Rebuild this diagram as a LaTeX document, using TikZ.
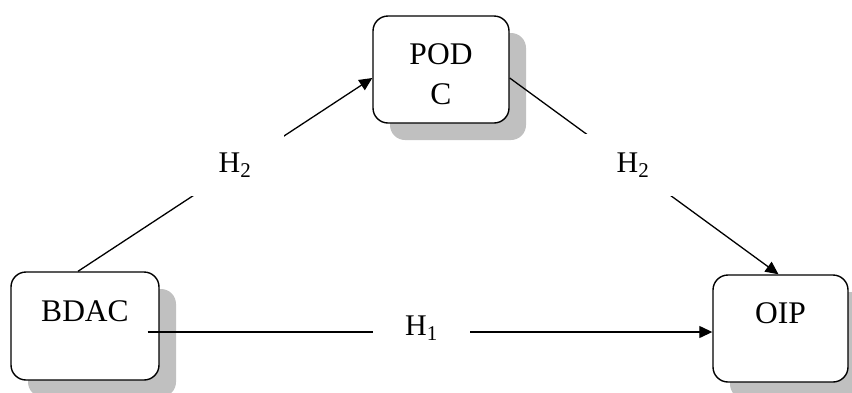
\documentclass[tikz,border=0pt]{standalone}
\usepackage{fontspec}
\setmainfont{Liberation Serif}
\usetikzlibrary{arrows.meta,shadows,calc}
\definecolor{shadowgray}{RGB}{192,192,192}
\begin{document}
\begin{tikzpicture}[x=1pt,y=-1pt,
  boxnode/.style={draw, line width=1.4pt, rounded corners=15pt, fill=white,
    inner sep=0pt, align=center, font=\fontsize{31.5}{40}\selectfont,
    drop shadow={shadow xshift=17pt, shadow yshift=-17pt, fill=shadowgray, opacity=1}},
  lbl/.style={fill=white, inner sep=0pt, minimum width=97pt, minimum height=62pt,
    font=\fontsize{30}{36}\selectfont},
  conn/.style={line width=1.3pt, -{Triangle[length=13pt,width=12pt]}}]
\clip (0,0) rectangle (852,392);
\node[boxnode, minimum width=136pt, minimum height=107pt] (podc) at (441,69.5) {\rule{0pt}{30pt}POD\\C};
\node[boxnode, minimum width=148pt, minimum height=108pt] (bdac) at (85,326) {\rule{0pt}{30pt}BDAC\\\mbox{}};
\node[boxnode, minimum width=135pt, minimum height=107pt] (oip) at (780.5,328.5) {\rule{0pt}{30pt}OIP\\\mbox{}};
\draw[conn] ($(bdac.north)+(-7,0)$) -- ($(podc.west)+(0,8.5)$);
\draw[conn] ($(podc.east)+(0,8.5)$) -- ($(oip.north)+(-2,0)$);
\draw[conn] ($(bdac.east)+(-12,6)$) -- ($(oip.west)+(0,3.5)$);
\node[lbl] (h2l) at (235,165) {H\textsubscript{2}};
\node[lbl] (h2r) at (633,165) {H\textsubscript{2}};
\node[lbl] (h1) at (421.5,328.5) {H\textsubscript{1}};
\end{tikzpicture}
\end{document}
